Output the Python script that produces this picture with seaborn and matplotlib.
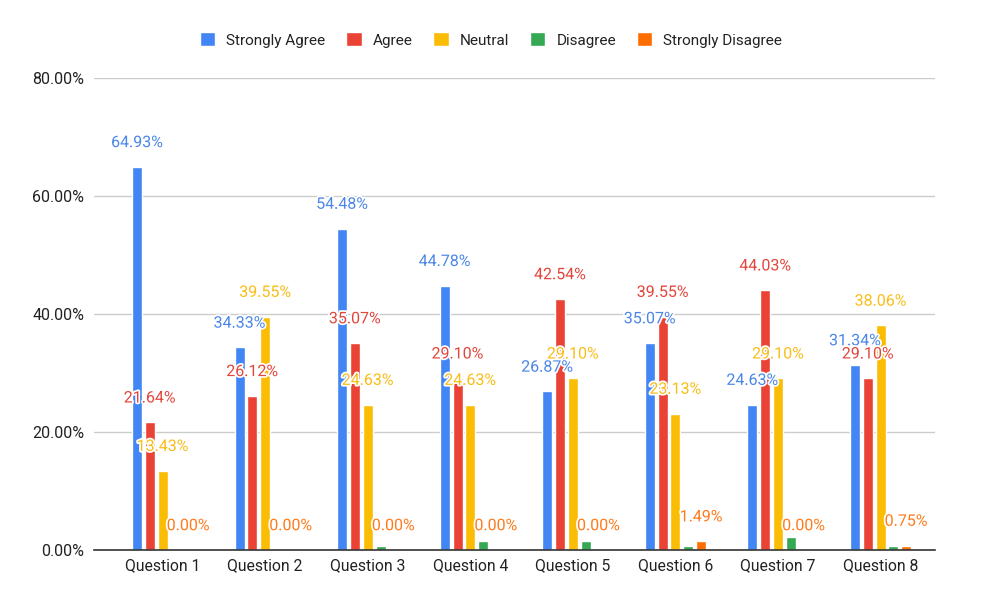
import pandas as pd
import seaborn as sns
import matplotlib
import matplotlib.pyplot as plt
import matplotlib.patheffects as pe
from matplotlib.ticker import FuncFormatter

matplotlib.use('Agg')

# Survey responses per question (percent)
questions = ["Question 1", "Question 2", "Question 3", "Question 4",
             "Question 5", "Question 6", "Question 7", "Question 8"]
responses = ["Strongly Agree", "Agree", "Neutral", "Disagree", "Strongly Disagree"]
strongly_agree = [64.93, 34.33, 54.48, 44.78, 26.87, 35.07, 24.63, 31.34]
agree = [21.64, 26.12, 35.07, 29.10, 42.54, 39.55, 44.03, 29.10]
neutral = [13.43, 39.55, 24.63, 24.63, 29.10, 23.13, 29.10, 38.06]
disagree = [0.00, 0.00, 0.75, 1.49, 1.49, 0.75, 2.24, 0.75]
strongly_disagree = [0.00, 0.00, 0.00, 0.00, 0.00, 1.49, 0.00, 0.75]

colors = ["#4285F4", "#EA4335", "#FBBC04", "#34A853", "#FF6D01"]
label_colors = ["#4A86E8", "#E2453C", "#F9BD17", "#34A853", "#FF7A1A"]
show_labels = [True, True, True, False, True]

series = [strongly_agree, agree, neutral, disagree, strongly_disagree]
rows = []
for resp, vals in zip(responses, series):
    for q, v in zip(questions, vals):
        rows.append({"Question": q, "Response": resp, "Percent": v})
df = pd.DataFrame(rows)

sns.set_style("white")
plt.rcParams['font.family'] = ['Roboto', 'DejaVu Sans']

fig = plt.figure(figsize=(9.82, 6.08), dpi=100)
ax = fig.add_axes([94 / 982, 58 / 608, 841 / 982, 472 / 608])

sns.barplot(data=df, x="Question", y="Percent", hue="Response",
            order=questions, hue_order=responses, palette=colors,
            width=0.624, gap=0.22, saturation=1, ax=ax, legend=True)

ax.set_ylim(0, 80)
ax.set_yticks([0, 20, 40, 60, 80])
ax.yaxis.set_major_formatter(FuncFormatter(lambda v, p: f"{v:.2f}%"))
ax.grid(axis='y', color='#cccccc', linewidth=1)
ax.set_axisbelow(True)
ax.set_xlim(-0.669, 7.53)
for s in ["top", "right", "left"]:
    ax.spines[s].set_visible(False)
ax.spines["bottom"].set_color("#333333")
ax.spines["bottom"].set_linewidth(1.2)
ax.tick_params(axis='both', length=0, labelcolor='#222222')
ax.tick_params(axis='y', pad=7, labelsize=11.5)
ax.tick_params(axis='x', pad=6, labelsize=11.3)
ax.set_xlabel("")
ax.set_ylabel("")

# Value labels above bars, with white halo
for cont, col, show in zip(ax.containers, label_colors, show_labels):
    if not show:
        continue
    for bar in cont:
        h = bar.get_height()
        xc = bar.get_x() + bar.get_width() / 2
        ax.annotate(f"{h:.2f}%", (xc, h), xytext=(0, 17.5),
                    textcoords='offset points', ha='center', va='center',
                    fontsize=11.5, color=col,
                    path_effects=[pe.withStroke(linewidth=2.5, foreground='white')])

handles, labels = ax.get_legend_handles_labels()
ax.legend(handles, labels, loc='center', bbox_to_anchor=(0.5, (608 - 40) / 608),
          bbox_transform=fig.transFigure, ncol=5, frameon=False, fontsize=11,
          handlelength=1.0, handleheight=1.0, handletextpad=0.72,
          columnspacing=1.37, labelcolor='#222222')

fig.savefig("out.png", dpi=100)
